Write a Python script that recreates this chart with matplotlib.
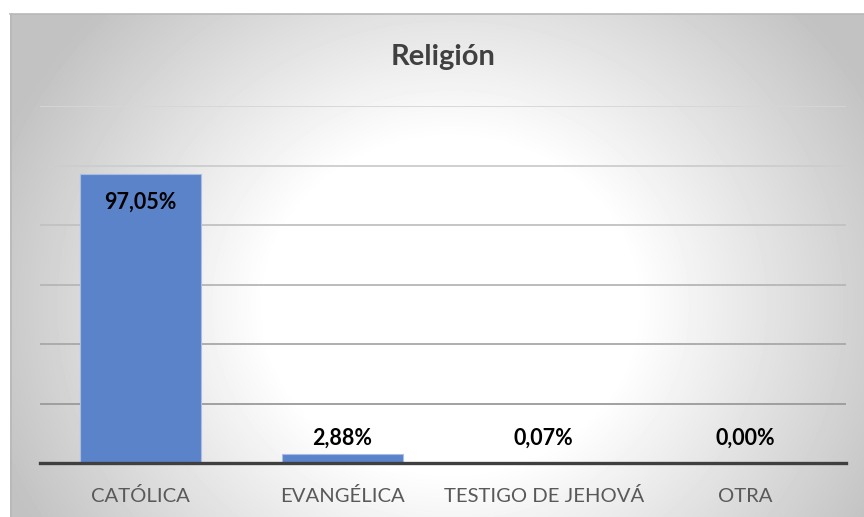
import numpy as np
import matplotlib.pyplot as plt

categories = ["CATÓLICA", "EVANGÉLICA", "TESTIGO DE JEHOVÁ", "OTRA"]
shares = [97.05, 2.88, 0.07, 0.00]
value_labels = ["97,05%", "2,88%", "0,07%", "0,00%"]
title = "Religión"
grid_levels = [20, 40, 60, 80, 100, 120]

FONT = ["Lato", "DejaVu Sans"]
W, H = 864, 517
fig = plt.figure(figsize=(W / 100, H / 100), dpi=100)
fig.patch.set_facecolor("white")


def fx(x):
    return x / W


def fy(y):
    return 1 - y / H


# chart panel with a soft radial gradient (white centre, grey edges)
px0, py0 = 10, 14
bg = fig.add_axes([fx(px0), 0, (W - px0) / W, (H - py0) / H])
yy, xx = np.mgrid[py0:H, px0:W]
dist = np.hypot((xx - 450) / 1.0, (yy - 305) / 0.9)
shade = 1 - 0.21 * np.clip((dist - 185) / 260, 0, 1.15)
bg.imshow(shade, cmap="gray", vmin=0, vmax=1, extent=[px0, W, H, py0],
          aspect="auto", interpolation="bilinear")
bg.set_xlim(px0, W)
bg.set_ylim(H, py0)
bg.axis("off")
bg.plot([px0, W], [py0 + 0.5, py0 + 0.5], color="#b8b8b8", lw=1.2, clip_on=False)
bg.plot([px0 + 0.5, px0 + 0.5], [py0, H], color="#b8b8b8", lw=1.2, clip_on=False)

# plotting area
ax = fig.add_axes([fx(40), fy(463), (846 - 40) / W, (463 - 106) / H])
ax.patch.set_alpha(0)
ax.set_xlim(-0.5, len(categories) - 0.5)
ax.set_ylim(0, 120)
for s in ax.spines.values():
    s.set_visible(False)
ax.set_xticks([])
ax.set_yticks([])

grid_colors = ["#9a9a9a", "#a8a8a8", "#b6b6b6", "#c2c2c2", "#cdcdcd", "#d6d6d6"]
for lvl, c in zip(grid_levels, grid_colors):
    ax.axhline(lvl, color=c, lw=1.3, zorder=1)

x = np.arange(len(categories))
ax.bar(x, shares, width=0.6, color="#5b83c9", edgecolor="#a9bde3",
       linewidth=0.8, zorder=2)
ax.axhline(0, color="#3f3f3f", lw=2.4, zorder=3, clip_on=False)

# value labels
for i, (v, lab) in enumerate(zip(shares, value_labels)):
    if v > 50:
        ax.annotate(lab, xy=(i, v), xytext=(0, -34 * 0.72), textcoords="offset points",
                    ha="center", va="baseline", fontsize=15.5, fontweight="bold",
                    color="black", family=FONT, zorder=4)
    else:
        ax.annotate(lab, xy=(i, 0), xytext=(0, 18 * 0.72), textcoords="offset points",
                    ha="center", va="baseline", fontsize=15.5, fontweight="bold",
                    color="black", family=FONT, zorder=4)

# category labels
for i, cat in enumerate(categories):
    ax.annotate(cat, xy=(i, 0), xytext=(0, -39 * 0.72), textcoords="offset points",
                ha="center", va="baseline", fontsize=14.6, color="#595959",
                family=FONT, annotation_clip=False)

fig.text(fx(443), fy(65), title, ha="center", va="baseline", fontsize=21,
         fontweight="bold", color="#404040", family=FONT)

fig.savefig("out.png", dpi=100)
